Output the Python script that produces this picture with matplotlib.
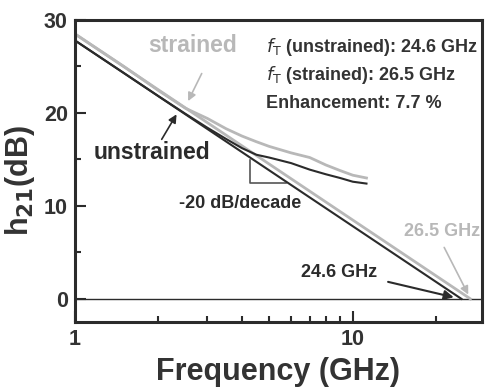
import matplotlib
matplotlib.use("Agg")
import matplotlib.pyplot as plt
from matplotlib.ticker import FixedLocator, NullFormatter

plt.rcParams['font.family'] = ['Liberation Sans', 'DejaVu Sans']

# measured data
freq = [1, 1.5, 2, 2.5, 3, 3.5, 4, 4.5, 5, 6, 7, 8, 9, 10, 11.2]
h21_unstrained = [27.8, 24.3, 21.8, 19.9, 18.4, 17.2, 16.2, 15.5, 15.2, 14.6, 13.9, 13.4, 13.0, 12.6, 12.4]
h21_strained = [28.5, 25.0, 22.4, 20.5, 19.4, 18.3, 17.5, 16.9, 16.4, 15.7, 15.2, 14.4, 13.8, 13.3, 13.0]

# -20 dB/decade extrapolations
fit_f_unstrained = [1, 24.6]
fit_h_unstrained = [27.8, 0]
fit_f_strained = [1, 26.5]
fit_h_strained = [28.5, 0]

# slope triangle
tri_f = [4.26, 4.26, 5.75]
tri_h = [14.9, 12.5, 12.5]

dark = '#2b2b2b'
light = '#b8b8b8'
txt = '#333333'

fig = plt.figure(figsize=(4.89, 3.90), dpi=100)
ax = fig.add_axes([0.153, 0.174, 0.833, 0.775])

ax.axhline(0, color=dark, lw=1.0, zorder=1)
ax.plot(fit_f_strained, fit_h_strained, color=light, lw=2.0, zorder=2)
ax.plot(fit_f_unstrained, fit_h_unstrained, color=dark, lw=1.5, zorder=3)
ax.plot(freq, h21_strained, color=light, lw=2.0, zorder=2)
ax.plot(freq, h21_unstrained, color=dark, lw=1.5, zorder=3)
ax.plot(tri_f, tri_h, color='#555555', lw=1.2, zorder=1)

ax.set_xscale('log')
ax.set_xlim(1, 29.2)
ax.set_ylim(-2.5, 30)

ax.xaxis.set_major_locator(FixedLocator([1, 10]))
ax.xaxis.set_minor_locator(FixedLocator([2, 3, 4, 5, 6, 7, 8, 9, 20]))
ax.xaxis.set_minor_formatter(NullFormatter())
ax.set_xticklabels(['1', '10'])
ax.yaxis.set_major_locator(FixedLocator([0, 10, 20, 30]))
ax.yaxis.set_minor_locator(FixedLocator([5, 15, 25]))

ax.tick_params(which='both', direction='in', top=False, right=False, width=1.5, colors=dark)
ax.tick_params(which='major', length=8, labelsize=15.5, pad=5)
ax.tick_params(which='minor', length=4)
for lbl in ax.get_xticklabels() + ax.get_yticklabels():
    lbl.set_fontweight('bold')
    lbl.set_color(txt)
for s in ax.spines.values():
    s.set_linewidth(2.2)
    s.set_color(dark)

ax.set_xlabel('Frequency (GHz)', fontsize=22, fontweight='bold', color=txt, labelpad=5)
ax.set_ylabel('h$_{\\mathbf{21}}$(dB)', fontsize=22, fontweight='bold', color=txt)
ax.yaxis.set_label_coords(-0.094, 0.47)

# annotations
ax.text(2.66, 27.2, 'strained', fontsize=16.5, fontweight='bold', color=light, ha='center', va='center')
ax.annotate('', xy=(2.53, 21.0), xytext=(2.89, 24.5),
            arrowprops=dict(arrowstyle='-|>', color=light, lw=1.2, mutation_scale=12))
ax.text(1.89, 15.7, 'unstrained', fontsize=16.5, fontweight='bold', color=dark, ha='center', va='center')
ax.annotate('', xy=(2.35, 20.1), xytext=(2.03, 16.9),
            arrowprops=dict(arrowstyle='-|>', color=dark, lw=1.2, mutation_scale=12))

ax.text(0.469, 0.911, '$\\mathit{f}_{\\mathrm{T}}$ (unstrained): 24.6 GHz', transform=ax.transAxes,
        fontsize=13, fontweight='bold', color=txt, ha='left', va='center')
ax.text(0.469, 0.818, '$\\mathit{f}_{\\mathrm{T}}$ (strained): 26.5 GHz', transform=ax.transAxes,
        fontsize=13, fontweight='bold', color=txt, ha='left', va='center')
ax.text(0.469, 0.725, 'Enhancement: 7.7 %', transform=ax.transAxes,
        fontsize=13, fontweight='bold', color=txt, ha='left', va='center')

ax.text(3.92, 10.3, '-20 dB/decade', fontsize=13, fontweight='bold', color=dark, ha='center', va='center')

ax.text(8.95, 2.8, '24.6 GHz', fontsize=13, fontweight='bold', color=dark, ha='center', va='center')
ax.annotate('', xy=(23.6, 0.1), xytext=(13.1, 1.9),
            arrowprops=dict(arrowstyle='-|>', color=dark, lw=1.5, mutation_scale=14))
ax.text(20.9, 7.2, '26.5 GHz', fontsize=13, fontweight='bold', color=light, ha='center', va='center')
ax.annotate('', xy=(26.3, 0.2), xytext=(21.1, 5.8),
            arrowprops=dict(arrowstyle='-|>', color=light, lw=1.2, mutation_scale=12))

fig.savefig('out.png', dpi=100)
